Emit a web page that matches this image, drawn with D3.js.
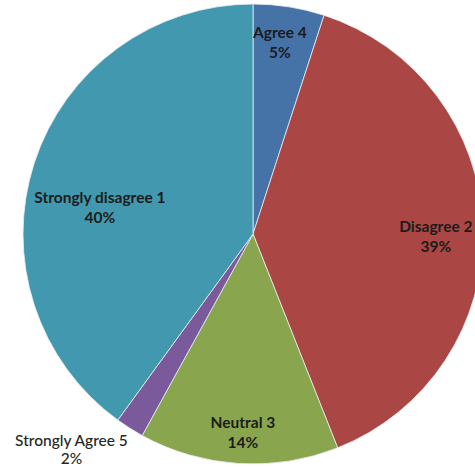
<!DOCTYPE html>
<html>
<head>
<meta charset="utf-8">
<script src="https://cdn.jsdelivr.net/npm/d3@7"></script>
<style>
  html, body { margin: 0; padding: 0; background: #ffffff; }
  svg { display: block; }
  text { font-family: Lato, "Open Sans", sans-serif; }
</style>
</head>
<body>
<svg id="chart" width="475" height="467"></svg>
<script>
// Survey responses, in clockwise order from 12 o'clock
const categories = ["Agree 4", "Disagree 2", "Neutral 3", "Strongly Agree 5", "Strongly disagree 1"];
const percents   = [5, 39, 14, 2, 40];
const colors     = ["#4572A7", "#AA4643", "#89A54E", "#7A5A9A", "#4198AF"];
// label placement: fraction of the radius (or "outside") and a small angular nudge in degrees
const labelRadius = [0.841, 0.795, 0.866, "outside", 0.676];
const labelNudge  = [-1, 2.6, -0.7, 0, -8];

const cx = 253, cy = 234, r = 230;
const fontSize = 15.5, lineGap = 20;

const svg = d3.select("#chart");
const g = svg.append("g").attr("transform", `translate(${cx},${cy})`);

const data = categories.map((c, i) => ({
  name: c, value: percents[i], color: colors[i], lr: labelRadius[i], nudge: labelNudge[i]
}));

const pie = d3.pie().value(d => d.value).sort(null);
const arcs = pie(data);
const arc = d3.arc().innerRadius(0).outerRadius(r);
const pct = d3.format(".0f");

g.selectAll("path.slice")
  .data(arcs)
  .join("path")
  .attr("class", "slice")
  .attr("d", arc)
  .attr("fill", d => d.data.color)
  .attr("stroke", "#e8eef4")
  .attr("stroke-width", 0.8)
  .attr("stroke-linejoin", "round");

arcs.forEach(d => {
  const mid = (d.startAngle + d.endAngle) / 2;
  if (d.data.lr === "outside") {
    // label box sits just beyond the rim, right edge at the slice's mid-angle
    const p = d3.arc().innerRadius(r * 1.04).outerRadius(r * 1.04).centroid(d);
    const t = g.append("text")
      .attr("fill", "#262626")
      .attr("font-size", fontSize)
      .attr("font-weight", 500)
      .attr("text-anchor", "middle");
    const l1 = t.append("tspan").text(d.data.name);
    const w = l1.node().getComputedTextLength();
    const boxCx = p[0] - w / 2 + 3;
    l1.attr("x", boxCx).attr("y", p[1] + 10);
    t.append("tspan").attr("x", boxCx).attr("y", p[1] + 10 + 18).text(pct(d.data.value) + "%");
  } else {
    const a = mid + d.data.nudge * Math.PI / 180;
    const lr = r * d.data.lr;
    const x = Math.sin(a) * lr, y = -Math.cos(a) * lr;
    const t = g.append("text")
      .attr("text-anchor", "middle")
      .attr("fill", "#1c1c1c")
      .attr("font-size", fontSize)
      .attr("font-weight", 700);
    t.append("tspan").attr("x", x).attr("y", y - 4.5).text(d.data.name);
    t.append("tspan").attr("x", x).attr("y", y - 4.5 + lineGap).text(pct(d.data.value) + "%");
  }
});
</script>
</body>
</html>
